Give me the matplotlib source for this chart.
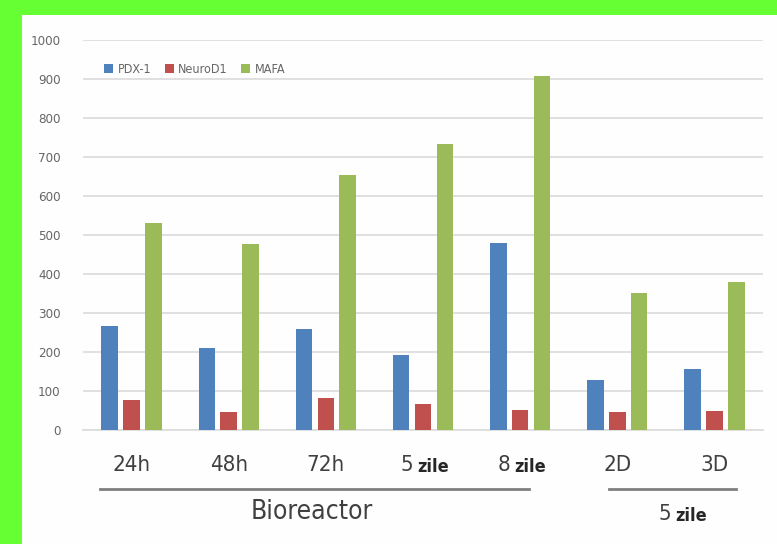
import matplotlib
matplotlib.use("Agg")
import matplotlib.pyplot as plt
import matplotlib.transforms as mtransforms
from matplotlib.patches import Rectangle
import numpy as np

# data
categories = ['24h', '48h', '72h', '5 zile', '8 zile', '2D', '3D']
pdx1 = [267, 210, 259, 192, 479, 128, 156]
neurod1 = [77, 46, 82, 67, 51, 46, 49]
mafa = [531, 477, 654, 733, 908, 351, 379]
series_names = ['PDX-1', 'NeuroD1', 'MAFA']
colors = ['#4F81BD', '#C0504D', '#9BBB59']

plt.rcParams['font.family'] = ['DejaVu Sans']
plt.rcParams['font.stretch'] = 'condensed'

fig = plt.figure(figsize=(7.77, 5.44), dpi=100)
fig.patch.set_facecolor('#FEFEFE')
# green frame (top and left)
fig.patches.append(Rectangle((0, (544-15)/544.), 1, 15/544., transform=fig.transFigure,
                             facecolor='#66FF33', edgecolor='none', zorder=-1))
fig.patches.append(Rectangle((0, 0), 22/777., 1, transform=fig.transFigure,
                             facecolor='#66FF33', edgecolor='none', zorder=-1))

ax = fig.add_axes([83/777., 114/544., 680/777., 390/544.])
ax.set_facecolor('none')

x = np.arange(len(categories))
w = 0.17
off = 0.225
for i, (vals, name) in enumerate(zip([pdx1, neurod1, mafa], series_names)):
    ax.bar(x + (i - 1)*off, vals, w, color=colors[i], label=name, zorder=3)

ax.set_xlim(-0.5, len(categories) - 0.5)
ax.set_ylim(0, 1000)
ax.set_yticks(np.arange(0, 1001, 100))
ax.yaxis.grid(True, color='#DDDDDD', linewidth=1.3, zorder=0)
ax.tick_params(axis='y', length=0, labelsize=9.5, labelcolor='#666666', pad=16)
for s in ['top', 'right', 'left']:
    ax.spines[s].set_visible(False)
ax.spines['bottom'].set_color('#DDDDDD')
ax.spines['bottom'].set_linewidth(1.3)
ax.set_xticks([])

trans = mtransforms.blended_transform_factory(ax.transData, ax.transAxes)
for xi, lab in zip(x, categories):
    if ' ' in lab:
        num, word = lab.split(' ')
        ax.text(xi - 0.1, -0.09, num, transform=trans, ha='right', va='center',
                fontsize=16, color='#404040')
        ax.text(xi - 0.06, -0.095, word, transform=trans, ha='left', va='center',
                fontsize=13, fontweight='bold', color='#262626')
    else:
        ax.text(xi, -0.09, lab, transform=trans, ha='center', va='center',
                fontsize=16, color='#404040')

# group brackets
ax.plot([-0.33, 4.09], [-0.151, -0.151], transform=trans, color='#7F7F7F',
        linewidth=2, clip_on=False)
ax.plot([4.91, 6.22], [-0.151, -0.151], transform=trans, color='#7F7F7F',
        linewidth=2, clip_on=False)
ax.text(1.85, -0.21, 'Bioreactor', transform=trans, ha='center', va='center',
        fontsize=19, color='#404040')
ax.text(5.55, -0.215, '5', transform=trans, ha='right', va='center',
        fontsize=16, color='#404040')
ax.text(5.6, -0.22, 'zile', transform=trans, ha='left', va='center',
        fontsize=13, fontweight='bold', color='#262626')

leg = ax.legend(loc='upper left', bbox_to_anchor=(0.015, 0.97), ncol=3, frameon=False,
                fontsize=9, handlelength=0.7, handleheight=0.7, handletextpad=0.35,
                columnspacing=1.1)
for t in leg.get_texts():
    t.set_color('#666666')

fig.savefig('out.png', dpi=100, facecolor=fig.get_facecolor())
